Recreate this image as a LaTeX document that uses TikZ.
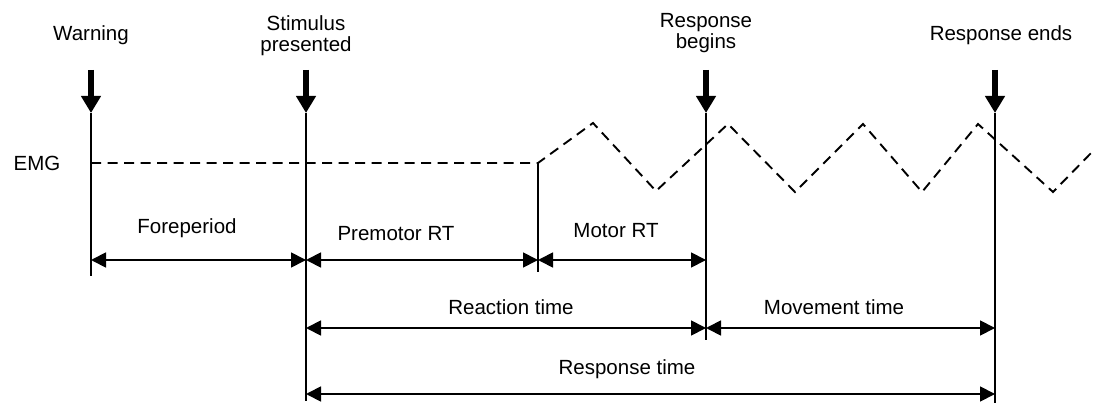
\documentclass[tikz,border=0pt]{standalone}
\usepackage{fontspec}
\setmainfont{Liberation Sans}
\usetikzlibrary{arrows.meta}
\begin{document}
\begin{tikzpicture}[x=1pt,y=-1pt,
  lbl/.style={font=\fontsize{20.5}{24}\selectfont, align=center, inner sep=0pt},
  vline/.style={line width=1.8pt},
  bigarrow/.style={line width=5.5pt, -{Triangle[length=17pt,width=19pt]}},
  dimline/.style={line width=1.8pt, {Triangle[length=15pt,width=15pt]}-{Triangle[length=15pt,width=15pt]}},
  emg/.style={line width=1.9pt, dash pattern=on 10pt off 6.5pt}]
\useasboundingbox (0,0) rectangle (1094,403);
% event x positions
\coordinate (wT) at (91,70);   \coordinate (wA) at (91,113);  \coordinate (wB) at (91,276);
\coordinate (sT) at (306,70);  \coordinate (sA) at (306,113); \coordinate (sB) at (306,401);
\coordinate (pA) at (538,163); \coordinate (pB) at (538,272);
\coordinate (rT) at (706,70);  \coordinate (rA) at (706,113); \coordinate (rB) at (706,340);
\coordinate (eT) at (995,70);  \coordinate (eA) at (995,113); \coordinate (eB) at (995,403);
% top labels
\node[lbl] (warn) at (91,35) {Warning};
\node[lbl] (stim) at (306,36) {Stimulus\\[-3pt]presented};
\node[lbl] (rbeg) at (706,33) {Response\\[-3pt]begins};
\node[lbl] (rend) at (1001,35) {Response ends};
\node[lbl] (emgl) at (37,163) {EMG};
% big arrows
\draw[bigarrow] (wT) -- (wA);
\draw[bigarrow] (sT) -- (sA);
\draw[bigarrow] (rT) -- (rA);
\draw[bigarrow] (eT) -- (eA);
% vertical lines
\draw[vline] (wA) -- (wB);
\draw[vline] (sA) -- (sB);
\draw[vline] (pA) -- (pB);
\draw[vline] (rA) -- (rB);
\draw[vline] (eA) -- (eB);
% EMG trace
\coordinate (e0) at (91,163);
\draw[emg] (e0) -- (pA) -- (593,123) -- (656,191) -- (728,124) -- (795,192) -- (863,124) -- (922,192) -- (978,124) -- (1053,192) -- (1094,150);
% dimension lines
\coordinate (d1a) at (91,260);  \coordinate (d1b) at (306,260);
\coordinate (d2b) at (538,260); \coordinate (d3b) at (706,260);
\coordinate (d4a) at (306,328); \coordinate (d4b) at (706,328); \coordinate (d5b) at (995,328);
\coordinate (d6a) at (306,394); \coordinate (d6b) at (995,394);
\draw[dimline] (d1a) -- (d1b);
\draw[dimline] (d1b) -- (d2b);
\draw[dimline] (d2b) -- (d3b);
\draw[dimline] (d4a) -- (d4b);
\draw[dimline] (d4b) -- (d5b);
\draw[dimline] (d6a) -- (d6b);
% dimension labels
\node[lbl] (fore) at (187,228) {Foreperiod};
\node[lbl] (prem) at (396,234) {Premotor RT};
\node[lbl] (motor) at (616,231) {Motor RT};
\node[lbl] (react) at (511,307) {Reaction time};
\node[lbl] (move) at (834,307) {Movement time};
\node[lbl] (resp) at (627,369) {Response time};
\end{tikzpicture}
\end{document}
